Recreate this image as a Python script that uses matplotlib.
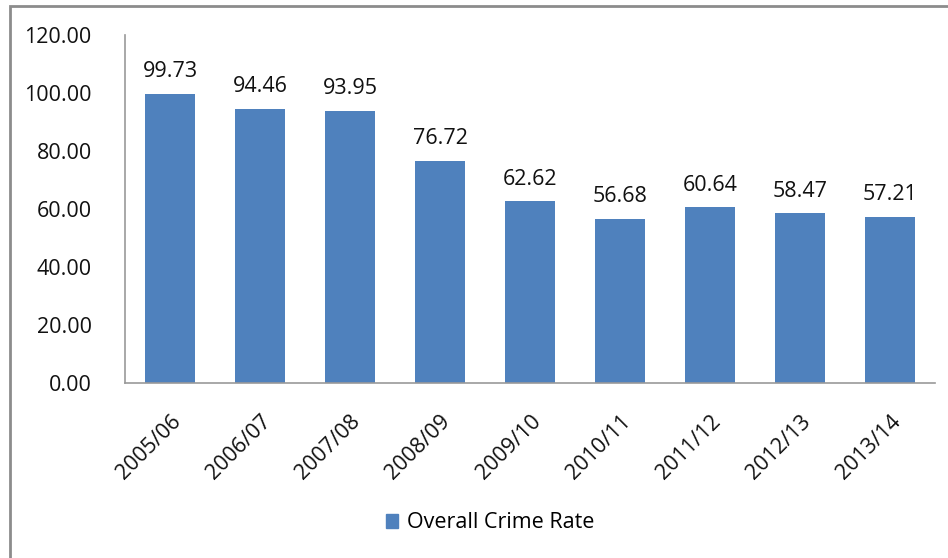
import matplotlib
matplotlib.use("Agg")
import matplotlib.pyplot as plt
from matplotlib.patches import Rectangle, Patch

categories = ["2005/06", "2006/07", "2007/08", "2008/09", "2009/10",
              "2010/11", "2011/12", "2012/13", "2013/14"]
values = [99.73, 94.46, 93.95, 76.72, 62.62, 56.68, 60.64, 58.47, 57.21]
yticks = [0, 20, 40, 60, 80, 100, 120]
series_name = "Overall Crime Rate"

plt.rcParams['font.family'] = ['Open Sans', 'DejaVu Sans']
W, H = 948, 558
FS = 15.5
fig = plt.figure(figsize=(W / 100, H / 100), dpi=100)
ax = fig.add_axes([125 / W, 1 - 383 / H, 810 / W, 348 / H])

x = list(range(len(categories)))
bars = ax.bar(x, values, width=0.56, color="#4F81BD")
for xi, v in zip(x, values):
    ax.text(xi, v + 4, f"{v:.2f}", ha="center", va="bottom", fontsize=FS, color="#111111")

ax.set_xlim(-0.5, len(categories) - 0.5)
ax.set_ylim(0, 120)
ax.set_yticks(yticks)
ax.set_yticklabels([f"{t:.2f}" for t in yticks], fontsize=FS, color="#111111")
ax.set_xticks(x)
ax.set_xticklabels(categories, rotation=45, ha="right", rotation_mode="anchor",
                   fontsize=FS, color="#111111")
ax.tick_params(axis="both", length=0)
ax.tick_params(axis="y", pad=24)
ax.tick_params(axis="x", pad=20)
for label in ax.get_xticklabels():
    label.set_x(label.get_position()[0])
for s in ["top", "right"]:
    ax.spines[s].set_visible(False)
for s in ["left", "bottom"]:
    ax.spines[s].set_color("#999999")
    ax.spines[s].set_linewidth(1.2)

fig.patches.append(Rectangle((10 / W, -0.1), 1.2, 1 - 6 / H + 0.1, transform=fig.transFigure,
                             fill=False, edgecolor="#8c8c8c", linewidth=2))

leg = fig.legend(handles=[Patch(color="#4F81BD", label=series_name)],
                 loc="center", bbox_to_anchor=(490 / W, 1 - 523 / H), frameon=False,
                 fontsize=FS, handlelength=0.6, handleheight=0.6, handletextpad=0.4)

fig.savefig("out.png", dpi=100)
